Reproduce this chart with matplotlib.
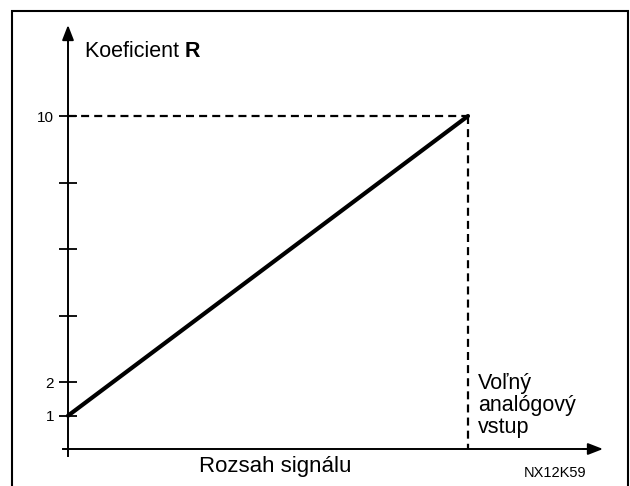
import matplotlib.pyplot as plt
from matplotlib.patches import Rectangle

plt.rcParams['font.family'] = ['Liberation Sans', 'DejaVu Sans']

# signal range (normalized) vs coefficient R
signal = [0, 1]
coef_r = [1, 10]
y_ticks = [1, 2, 4, 6, 8, 10]
y_tick_labels = ['1', '2', '', '', '', '10']
input_lines = ['Voľný', 'analógový', 'vstup']

W, H = 630, 486
fig = plt.figure(figsize=(W / 100, H / 100), dpi=100)
ax = fig.add_axes([0, 0, 1, 1])

# pixel mapping: x=0 at px 68, x=1 at px 468; y=0 at py 449, 33.3 px per unit
x0, xs = 68, 400
y0, ys = 449, 33.3
ax.set_xlim(-x0 / xs, (W - x0) / xs)
ax.set_ylim(-(H - y0) / ys, y0 / ys)

# frame around the picture (runs off the bottom)
fig.patches.append(Rectangle((11.5 / W, -0.05), (628 - 11.5) / W, 1.05 - 11.5 / H,
                             transform=fig.transFigure, fill=False, lw=1.5, ec='black'))

for s in ['top', 'right']:
    ax.spines[s].set_visible(False)
ax.spines['left'].set_position(('data', 0))
ax.spines['bottom'].set_position(('data', 0))
y_tip = (y0 - 25) / ys
x_tip = (603 - x0) / xs
ax.spines['left'].set_bounds(-0.21, y_tip - 0.3)
ax.spines['bottom'].set_bounds(-0.0125, x_tip - 0.03)
ax.spines['left'].set_linewidth(1.4)
ax.spines['bottom'].set_linewidth(1.4)

ax.annotate('', xy=(0, y_tip), xytext=(0, y_tip - 0.5),
            arrowprops=dict(arrowstyle='-|>,head_length=0.9,head_width=0.35', color='black', lw=1.4,
                            shrinkA=0, shrinkB=0))
ax.annotate('', xy=(x_tip, 0), xytext=(x_tip - 0.05, 0),
            arrowprops=dict(arrowstyle='-|>,head_length=0.9,head_width=0.35', color='black', lw=1.4,
                            shrinkA=0, shrinkB=0))

ax.set_xticks([])
ax.set_yticks(y_ticks)
ax.set_yticklabels(y_tick_labels, fontsize=11)
ax.tick_params(axis='y', direction='inout', length=13, width=1.3, pad=3.5)

# guide lines
ax.plot([0, signal[1]], [coef_r[1], coef_r[1]], color='black', lw=1.6, ls=(0, (3.6, 2.3)))
ax.plot([signal[1], signal[1]], [coef_r[1], 0], color='black', lw=1.6, ls=(0, (3.6, 2.3)))

# characteristic
ax.plot(signal, coef_r, color='black', lw=3, solid_capstyle='round')

t = ax.text((85 - x0) / xs, (y0 - 57) / ys, 'Koeficient ', fontsize=15.5, va='baseline', ha='left')
ax.annotate('R', xy=(1, 0), xycoords=t, fontsize=15.5, fontweight='bold', va='bottom', ha='left')

ax.text((275 - x0) / xs, (y0 - 472) / ys, 'Rozsah signálu', fontsize=16, va='baseline', ha='center')

for i, line in enumerate(input_lines):
    ax.text((478 - x0) / xs, (y0 - 389 - 22 * i) / ys, line, fontsize=15.5, va='baseline', ha='left')

ax.text((555 - x0) / xs, (y0 - 477) / ys, 'NX12K59', fontsize=10.5, va='baseline', ha='center')

fig.savefig('out.png', dpi=100)
